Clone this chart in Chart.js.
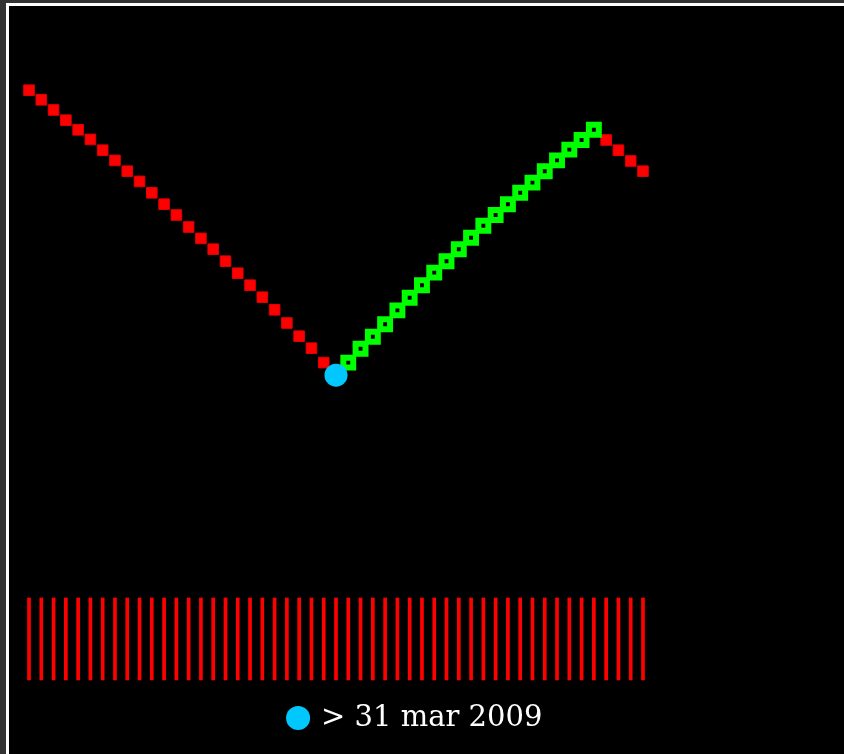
<!DOCTYPE html>
<html>
<head>
<meta charset="utf-8">
<title>31 mar 2009</title>
<script src="https://cdn.jsdelivr.net/npm/chart.js@4.4.0/dist/chart.umd.min.js"></script>
<style>
  html, body { margin: 0; padding: 0; background: #333; overflow: hidden; }
  .frame {
    position: absolute; left: 6px; top: 3px;
    width: 900px; height: 800px;
    border: 3px solid #fff; background: #000;
  }
  .wrap { position: absolute; left: 0; top: 0; width: 814px; height: 748px; }
</style>
</head>
<body>
<div class="frame">
  <div class="wrap"><canvas id="chart"></canvas></div>
</div>
<script>
// values, one per day (index 0..50)
const redFall = [98.3, 96.7, 95.0, 93.3, 91.7, 90.1, 88.3, 86.6, 84.8, 83.1,
                 81.2, 79.3, 77.5, 75.5, 73.6, 71.8, 69.8, 67.8, 65.8, 63.8,
                 61.7, 59.5, 57.3, 55.3, 52.9];
const markValue = 50.8;   // day 25
const greenRise = [52.9, 55.2, 57.2, 59.3, 61.6, 63.7, 65.8, 67.9, 69.8, 71.8,
                   73.7, 75.7, 77.5, 79.3, 81.2, 82.9, 84.8, 86.6, 88.4, 90.0,
                   91.7];
const redTail = [90.0, 88.3, 86.5, 84.8];
const volume = [1, 1, 1, 1, 1, 1, 1, 1, 1, 1, 1, 1, 1, 1, 1, 1, 1,
                1, 1, 1, 1, 1, 1, 1, 1, 1, 1, 1, 1, 1, 1, 1, 1, 1,
                1, 1, 1, 1, 1, 1, 1, 1, 1, 1, 1, 1, 1, 1, 1, 1, 1];
const markLabel = '> 31 mar 2009';

const markIndex = redFall.length;
const greenStart = markIndex + 1;
const tailStart = greenStart + greenRise.length;

const redPoints = redFall.map((v, i) => ({ x: i, y: v }))
  .concat(redTail.map((v, i) => ({ x: tailStart + i, y: v })));
const greenPoints = greenRise.map((v, i) => ({ x: greenStart + i, y: v }));
const markPoints = [{ x: markIndex, y: markValue }];
const volPoints = volume.map((v, i) => ({ x: i, y: v }));

new Chart(document.getElementById('chart'), {
  type: 'line',
  data: {
    datasets: [
      {
        label: markLabel,
        data: markPoints,
        showLine: false,
        pointStyle: 'circle',
        pointRadius: 11.5,
        pointBackgroundColor: '#00c8ff',
        pointBorderColor: '#00c8ff',
        pointBorderWidth: 0,
        backgroundColor: '#00c8ff',
        borderColor: '#00c8ff',
        order: 0
      },
      {
        label: 'up',
        data: greenPoints,
        showLine: false,
        pointStyle: 'rect',
        pointRadius: 7,
        pointBorderWidth: 6,
        pointBorderColor: '#00ff00',
        pointBackgroundColor: 'rgba(0,0,0,0)',
        order: 1
      },
      {
        label: 'down',
        data: redPoints,
        showLine: false,
        pointStyle: 'rect',
        pointRadius: 7.5,
        pointBorderWidth: 1,
        pointBorderColor: '#e00000',
        pointBackgroundColor: '#ff0000',
        order: 2
      },
      {
        type: 'bar',
        label: 'volume',
        data: volPoints,
        yAxisID: 'y2',
        backgroundColor: '#ff0000',
        borderColor: '#e00000',
        borderWidth: 0,
        barThickness: 3,
        clip: false,
        order: 3
      }
    ]
  },
  options: {
    responsive: true,
    maintainAspectRatio: false,
    animation: false,
    layout: { autoPadding: false, padding: { top: 44, bottom: 11.5, left: 0, right: 0 } },
    scales: {
      x: { type: 'linear', display: false, offset: false, grid: { offset: false }, min: -1.63, max: 64.66 },
      y: { display: false, min: 0, max: 105 },
      y2: { display: false, min: 0, max: 7.68 }
    },
    plugins: {
      tooltip: { enabled: false },
      legend: {
        position: 'bottom',
        labels: {
          filter: item => item.text === markLabel,
          usePointStyle: true,
          boxWidth: 17,
          boxHeight: 17,
          padding: 23.5,
          color: '#fff',
          font: { family: 'DejaVu Serif', size: 29 }
        }
      }
    }
  }
});
</script>
</body>
</html>
